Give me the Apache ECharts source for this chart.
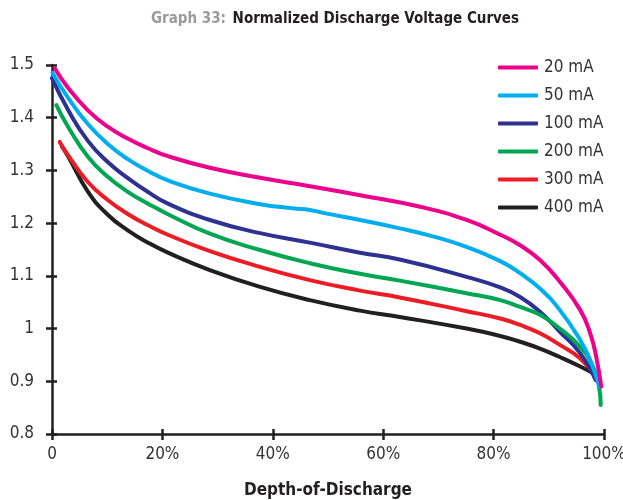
<!DOCTYPE html>
<html>
<head>
<meta charset="utf-8">
<script src="https://cdn.jsdelivr.net/npm/echarts@6/dist/echarts.min.js"></script>
<style>
  html, body { margin: 0; padding: 0; background: #fff; }
  #main { width: 623px; height: 500px; }
</style>
</head>
<body>
<div id="main"></div>
<script>
// depth-of-discharge (%) and normalized voltage
const dod20 = [0.5, 2.9, 6.5, 10.1, 13.8, 17.4, 21, 28.6, 37.7, 46.7, 55.8, 66.7, 75.1, 81.2, 84.8, 88.4, 92, 95.7, 97.5, 98.6, 99.5]
const volt20 = [1.494, 1.457, 1.414, 1.383, 1.360, 1.342, 1.327, 1.305, 1.286, 1.270, 1.253, 1.231, 1.206, 1.178, 1.158, 1.130, 1.089, 1.035, 0.991, 0.946, 0.890]

const dod50 = [0.1, 2.9, 6.5, 10.1, 13.8, 17.4, 21, 28.6, 37.7, 43.7, 46.7, 49.8, 55.8, 63, 69, 75.1, 81.2, 84.8, 88.4, 92, 95.7, 97.5, 99.2]
const volt50 = [1.485, 1.438, 1.388, 1.350, 1.321, 1.299, 1.281, 1.256, 1.236, 1.228, 1.225, 1.218, 1.206, 1.190, 1.175, 1.155, 1.128, 1.105, 1.076, 1.035, 0.978, 0.940, 0.890]

const dod100 = [0, 2.9, 6.5, 10.1, 13.8, 17.4, 21, 28.6, 37.7, 46.7, 55.8, 63, 75.1, 81.2, 84.8, 88.4, 92, 95.7, 98.5]
const volt100 = [1.475, 1.415, 1.356, 1.316, 1.285, 1.259, 1.237, 1.206, 1.181, 1.163, 1.144, 1.131, 1.098, 1.078, 1.060, 1.032, 0.994, 0.953, 0.902]

const dod200 = [0.8, 2.9, 6.5, 10.1, 13.8, 17.4, 21, 28.6, 37.7, 46.7, 55.8, 63, 75.1, 81.2, 84.8, 88.4, 92, 95.7, 98, 99.1, 99.4]
const volt200 = [1.424, 1.383, 1.326, 1.288, 1.259, 1.237, 1.217, 1.180, 1.149, 1.124, 1.104, 1.091, 1.067, 1.054, 1.041, 1.026, 1.000, 0.965, 0.928, 0.890, 0.855]

const dod300 = [1.4, 2.9, 6.5, 10.1, 13.8, 17.4, 21, 28.6, 37.7, 46.7, 55.8, 63, 75.1, 81.2, 84.8, 88.4, 92, 95.7, 98.8]
const volt300 = [1.354, 1.329, 1.278, 1.244, 1.217, 1.196, 1.178, 1.147, 1.117, 1.092, 1.072, 1.059, 1.033, 1.019, 1.007, 0.991, 0.969, 0.943, 0.905]

const dod400 = [1.8, 2.9, 6.5, 10.1, 13.8, 17.4, 21, 28.6, 37.7, 46.7, 55.8, 63, 75.1, 81.2, 84.8, 88.4, 92, 95.7, 98.6]
const volt400 = [1.345, 1.327, 1.260, 1.216, 1.186, 1.163, 1.144, 1.111, 1.079, 1.054, 1.034, 1.022, 1.000, 0.986, 0.975, 0.962, 0.946, 0.928, 0.912]

const seriesNames = ['20 mA', '50 mA', '100 mA', '200 mA', '300 mA', '400 mA']
const seriesColors = ['#ec008c', '#00aeef', '#2e3192', '#00a651', '#ed1c24', '#231f20']
const seriesZ = [6, 5, 3, 4, 2, 1]

const font = "'Liberation Sans Narrow', 'DejaVu Sans Condensed', sans-serif"
const ink = '#231f20'

const pairs = (xs, ys) => xs.map((x, i) => [x, ys[i]])
const allData = [
  pairs(dod20, volt20),
  pairs(dod50, volt50),
  pairs(dod100, volt100),
  pairs(dod200, volt200),
  pairs(dod300, volt300),
  pairs(dod400, volt400)
]

var myChart = echarts.init(document.getElementById('main'))

// ticks cross the axis line: outer half on the main axis,
// inner half on a twin axis pulled 5px into the grid
const tickStyle = { color: ink, width: 2.5 }

var option = {
  animation: false,
  backgroundColor: '#fff',
  graphic: [{
    type: 'text',
    x: 335,
    y: 12,
    style: {
      text: '{a|Graph 33:}  {b|Normalized Discharge Voltage Curves}',
      textAlign: 'center',
      rich: {
        a: { fill: '#9b9b9b', fontFamily: font, fontSize: 15, fontWeight: 'bold' },
        b: { fill: ink, fontFamily: font, fontSize: 15, fontWeight: 'bold' }
      }
    }
  }],
  legend: {
    orient: 'vertical',
    left: 493,
    top: 53,
    itemWidth: 40,
    itemHeight: 4,
    itemGap: 9,
    icon: 'roundRect',
    textStyle: { fontFamily: font, fontSize: 17, color: '#333', lineHeight: 19, padding: [0, 0, 0, 1] },
    data: seriesNames
  },
  grid: { left: 52, right: 19, top: 65, bottom: 66, outerBoundsMode: 'none' },
  xAxis: [{
    type: 'value',
    min: 0,
    max: 100,
    interval: 20,
    name: 'Depth-of-Discharge',
    nameLocation: 'middle',
    nameGap: 48,
    nameTextStyle: { fontFamily: font, fontSize: 17, fontWeight: 'bold', color: ink },
    axisLine: { lineStyle: { color: ink, width: 2.5 } },
    axisTick: { length: 6, lineStyle: tickStyle },
    axisLabel: {
      margin: 12,
      fontFamily: font, fontSize: 17, color: '#333',
      formatter: v => v === 0 ? '0' : v + '%'
    },
    splitLine: { show: false }
  }, {
    type: 'value', min: 0, max: 100, interval: 20, position: 'bottom', offset: -5,
    axisLine: { show: false },
    axisTick: { show: true, length: 5, lineStyle: tickStyle },
    axisLabel: { show: false },
    splitLine: { show: false }
  }],
  yAxis: [{
    type: 'value',
    min: 0.8,
    max: 1.5,
    interval: 0.1,
    axisLine: { show: true, lineStyle: { color: ink, width: 2.5 } },
    axisTick: { show: true, length: 6, lineStyle: tickStyle },
    axisLabel: { margin: 18, fontFamily: font, fontSize: 17, color: '#333' },
    splitLine: { show: false }
  }, {
    type: 'value', min: 0.8, max: 1.5, interval: 0.1, position: 'left', offset: -5,
    axisLine: { show: false },
    axisTick: { show: true, length: 5, lineStyle: tickStyle },
    axisLabel: { show: false },
    splitLine: { show: false }
  }],
  series: seriesNames.map((name, i) => ({
    name: name,
    type: 'line',
    smooth: 0.5,
    showSymbol: false,
    symbol: 'none',
    z: seriesZ[i],
    color: seriesColors[i],
    lineStyle: { width: 4, color: seriesColors[i], cap: 'round' },
    data: allData[i]
  }))
}

myChart.setOption(option)
</script>
</body>
</html>
